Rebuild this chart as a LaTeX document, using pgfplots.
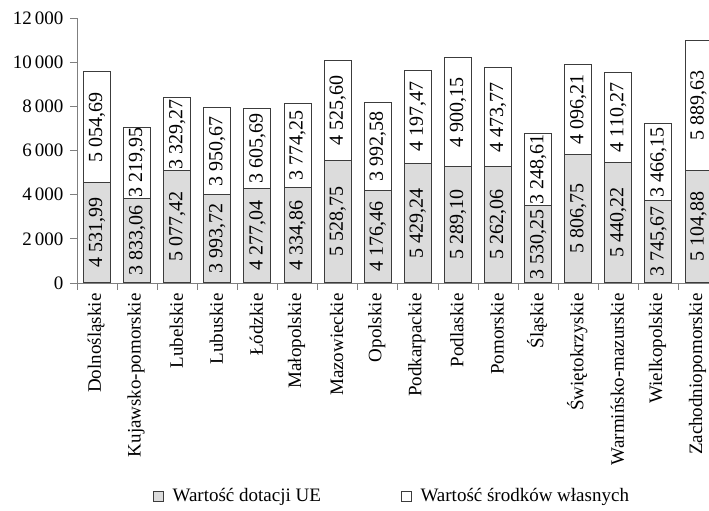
\documentclass[border=0pt]{standalone}
\usepackage{pgfplots}
\usepackage{pgfplotstable}
\pgfplotsset{compat=1.18}
\usepackage{fontspec}
\setmainfont{Liberation Serif}

\definecolor{szary}{HTML}{DCDCDC}
\definecolor{ramka}{HTML}{3C3C3C}
\definecolor{osie}{HTML}{7F7F7F}

% wartości w mln zł: dotacje UE (ue), środki własne (wl)
\pgfplotstableread{
x ue wl
0 4531.99 5054.69
1 3833.06 3219.95
2 5077.42 3329.27
3 3993.72 3950.67
4 4277.04 3605.69
5 4334.86 3774.25
6 5528.75 4525.60
7 4176.46 3992.58
8 5429.24 4197.47
9 5289.10 4900.15
10 5262.06 4473.77
11 3530.25 3248.61
12 5806.75 4096.21
13 5440.22 4110.27
14 3745.67 3466.15
15 5104.88 5889.63
}\dane

\pgfplotsset{
  etykieta/.style={only marks, mark=text, text mark={},
    point meta=explicit,
    nodes near coords={\pgfmathprintnumber[fixed, fixed zerofill, precision=2, use comma, 1000 sep={\ }]{\pgfplotspointmeta}},
    every node near coord/.append style={font=\fontsize{20}{22}\selectfont, text=black, rotate=90, anchor=center, inner sep=0pt}},
}

\begin{document}
\begin{tikzpicture}
\useasboundingbox (0,0) rectangle (709pt,511pt);
\begin{axis}[
  at={(77pt,228pt)}, anchor=south west,
  scale only axis,
  width=632pt, height=265pt,
  bar width=27pt,
  xmin=-0.5, xmax=15.26,
  ymin=0, ymax=12000,
  ytick={0,2000,...,12000},
  scaled y ticks=false,
  axis x line=bottom,
  axis y line=left,
  axis line style={draw=osie, line width=0.8pt, -},
  tick align=outside,
  ytick style={draw=osie, line width=0.8pt},
  major tick length=7pt,
  xtick={0,...,15},
  xtick style={draw=none},
  extra x ticks={-0.5,0.5,...,15.5},
  extra x tick style={xticklabel={}, xtick style={draw=osie, line width=0.8pt}},
  xticklabels={Dolnośląskie,Kujawsko-pomorskie,Lubelskie,Lubuskie,Łódzkie,Małopolskie,Mazowieckie,Opolskie,Podkarpackie,Podlaskie,Pomorskie,Śląskie,Świętokrzyskie,Warmińsko-mazurskie,Wielkopolskie,Zachodniopomorskie},
  xticklabel style={rotate=90, anchor=east, font=\fontsize{19}{21}\selectfont, yshift=1pt},
  yticklabel style={font=\fontsize{19}{21}\selectfont, xshift=-3pt},
  /pgf/number format/assume math mode=true,
  /pgf/number format/1000 sep={\,},
  legend style={at={(axis description cs:0.12,-0.804)}, anchor=west, draw=none, inner sep=0pt,
    nodes={inner sep=0pt},
    font=\fontsize{19}{21}\selectfont, legend columns=2,
    /tikz/every odd column/.append style={column sep=9pt},
    /tikz/every even column/.append style={column sep=80pt}},
  legend image code/.code={\draw[#1, line width=0.6pt] (0pt,-5pt) rectangle (10pt,5pt);},
]
% słupki: najpierw cała wysokość (biały), potem część dotacji (szary)
\addplot[ybar, bar shift=0pt, fill=white, draw=ramka, line width=1pt, forget plot]
  table[x=x, y expr=\thisrow{ue}+\thisrow{wl}] {\dane};
\addplot[ybar, bar shift=0pt, fill=szary, draw=ramka, line width=1pt, forget plot]
  table[x=x, y=ue] {\dane};
% opisy wartości w środku każdej części słupka
\addplot[etykieta, forget plot] table[x=x, y expr=\thisrow{ue}/2, meta=ue] {\dane};
\addplot[etykieta, forget plot] table[x=x, y expr=\thisrow{ue}+\thisrow{wl}/2, meta=wl] {\dane};
\addlegendimage{fill=szary, draw=ramka}
\addlegendentry{Wartość dotacji UE}
\addlegendimage{fill=white, draw=ramka}
\addlegendentry{Wartość środków własnych}
\end{axis}
\end{tikzpicture}
\end{document}
